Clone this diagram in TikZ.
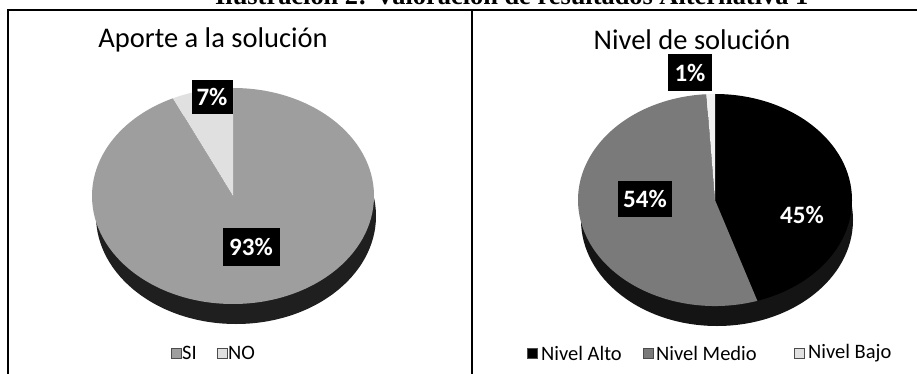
\documentclass[tikz,border=0pt]{standalone}
\usepackage{fontspec}
\usepackage{graphicx}
\setmainfont{Carlito}
\newfontfamily\capfont{Liberation Serif}
\begin{document}
\begin{tikzpicture}[x=1pt,y=-1pt,
  frameline/.style={draw=black,line width=1.1pt},
  charttitle/.style={font=\fontsize{28.5}{30}\selectfont,inner sep=0pt},
  pctbox/.style={fill=black,text=white,inner sep=0pt,font=\bfseries\fontsize{25}{25}\selectfont},
  pcttext/.style={text=white,inner sep=0pt,font=\bfseries\fontsize{25}{25}\selectfont},
  legtext/.style={font=\fontsize{20.5}{21}\selectfont,inner sep=0pt,anchor=west},
  legmark/.style={minimum size=10pt,inner sep=0pt,draw=black!70,line width=0.4pt}]
\useasboundingbox (0,0) rectangle (917,374);
\fill[white] (0,0) rectangle (917,374);
% figure caption (clipped at top)
\node[anchor=base west,inner sep=0pt] (cap) at (215,5) {\resizebox{593pt}{!}{\capfont\bfseries Ilustración 2: Valoración de resultados Alternativa 1}};
% frame
\coordinate (ftl) at (8,10);
\coordinate (ftr) at (917,10);
\coordinate (fbl) at (8,374);
\coordinate (fdt) at (472,10);
\coordinate (fdb) at (472,374);
\draw[frameline] (fbl) -- (ftl) -- (ftr);
\draw[frameline] (fdt) -- (fdb);
% ---------- left chart
\node[charttitle] (t1) at (213,40) {Aporte a la solución};
\coordinate (c1) at (233,196);
\fill[black!88] ([shift={(3,20)}]c1) ellipse[x radius=140,y radius=108];
\fill[black!38] (c1) -- ++(-90:141 and 108) arc[start angle=-90,end angle=244.8,x radius=141,y radius=108] -- cycle;
\fill[black!12] (c1) -- ++(244.8:141 and 108) arc[start angle=244.8,end angle=270,x radius=141,y radius=108] -- cycle;
\node[pctbox,minimum width=41pt,minimum height=34pt] (p7) at (212,97) {7\%};
\node[pctbox,minimum width=57pt,minimum height=38pt] (p93) at (251,247) {93\%};
\node[legmark,fill=black!38] (m1) at (176,353) {};
\node[legtext] (l1) at (182,353) {SI};
\node[legmark,fill=black!12] (m2) at (222,353) {};
\node[legtext] (l2) at (228,353) {NO};
% ---------- right chart
\node[charttitle] (t2) at (692,40) {Nivel de solución};
\coordinate (c2) at (715,200);
\fill[black!92] ([shift={(2,20)}]c2) ellipse[x radius=136,y radius=106];
\fill[black] (c2) -- ++(-90:137 and 106) arc[start angle=-90,end angle=72,x radius=137,y radius=106] -- cycle;
\fill[black!52] (c2) -- ++(72:137 and 106) arc[start angle=72,end angle=266.4,x radius=137,y radius=106] -- cycle;
\fill[black!6] (c2) -- ++(266.4:137 and 106) arc[start angle=266.4,end angle=270,x radius=137,y radius=106] -- cycle;
\node[pctbox,minimum width=44pt,minimum height=37pt] (p1) at (690,73) {1\%};
\node[pctbox,minimum width=54pt,minimum height=36pt] (p54) at (645,199) {54\%};
\node[pcttext] (p45) at (802,215) {45\%};
\node[legmark,fill=black] (m3) at (532,353) {};
\node[legtext] (l3) at (541,353) {Nivel Alto};
\node[legmark,fill=black!52] (m4) at (648,353) {};
\node[legtext] (l4) at (656,353) {Nivel Medio};
\node[legmark,fill=black!12] (m5) at (799,353) {};
\node[legtext] (l5) at (808,353) {Nivel Bajo};
\end{tikzpicture}
\end{document}
